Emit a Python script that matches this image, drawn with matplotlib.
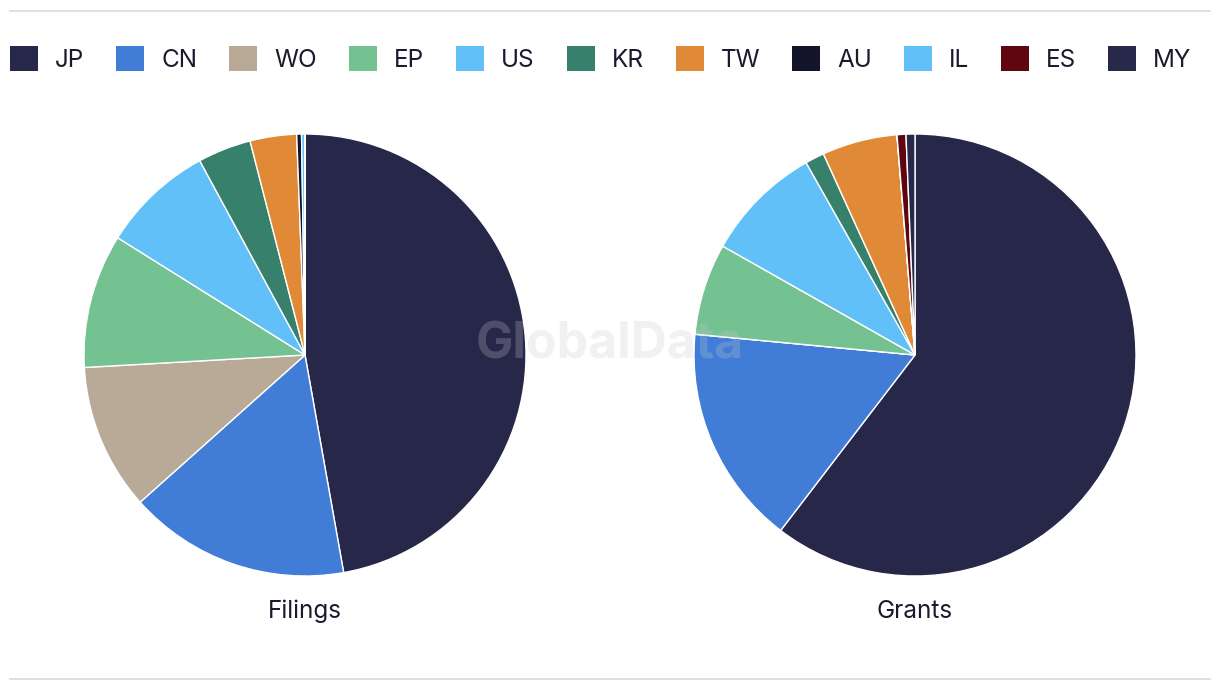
import matplotlib
matplotlib.use("Agg")
import matplotlib.pyplot as plt
from matplotlib.patches import Patch
from matplotlib.lines import Line2D

plt.rcParams['font.family'] = ['Inter', 'DejaVu Sans']

countries = ["JP", "CN", "WO", "EP", "US", "KR", "TW", "AU", "IL", "ES", "MY"]
colors = ["#27274a", "#417dd6", "#b8aa96", "#74c291", "#62c0f9", "#37806b",
          "#e08a38", "#14152b", "#62c0f9", "#60060f", "#27284a"]
filings = [47.2, 16.2, 10.7, 9.8, 8.2, 3.9, 3.4, 0.35, 0.25, 0.0, 0.0]
grants = [60.4, 16.1, 0.0, 6.7, 8.6, 1.4, 5.5, 0.0, 0.0, 0.65, 0.65]
pie_titles = ["Filings", "Grants"]

W, H = 1220, 690
fig = plt.figure(figsize=(W / 100, H / 100), dpi=100)

# separator lines
fig.add_artist(Line2D([10 / W, 1210 / W], [1 - 11 / H, 1 - 11 / H], color="#d9d9d9", lw=1.2))
fig.add_artist(Line2D([10 / W, 1210 / W], [1 - 679 / H, 1 - 679 / H], color="#d9d9d9", lw=1.2))

r = 221
for cx, vals, title in [(305, filings, pie_titles[0]), (915, grants, pie_titles[1])]:
    ax = fig.add_axes([(cx - r) / W, (H - 355 - r) / H, 2 * r / W, 2 * r / H])
    ax.pie(vals, colors=colors, startangle=90, counterclock=False,
           wedgeprops=dict(edgecolor="white", linewidth=1.0), radius=1.0)
    ax.set_xlim(-1, 1)
    ax.set_ylim(-1, 1)
    ax.set_aspect("equal")
    ax.axis("off")
    fig.text(cx / W, 1 - 611 / H, title, ha="center", va="center",
             fontsize=17.5, color="#1a1a2e")

fs = 17.5
px = fs * 100 / 72
handles = [Patch(facecolor=c, edgecolor="none") for c in colors]
fig.legend(handles, countries, loc="center left", bbox_to_anchor=(10 / W, 1 - 59 / H),
           ncol=len(countries), frameon=False, fontsize=fs,
           handlelength=28 / px, handleheight=28 / px, handletextpad=17 / px,
           columnspacing=32 / px, labelcolor="#1a1a2e", borderpad=0, borderaxespad=0)

fig.text(610 / W, 1 - 345 / H, "GlobalData", ha="center", va="center",
         fontsize=36, fontweight="bold", color="#c8c8d0", alpha=0.25, zorder=10)

fig.savefig("out.png", dpi=100, facecolor="white")
